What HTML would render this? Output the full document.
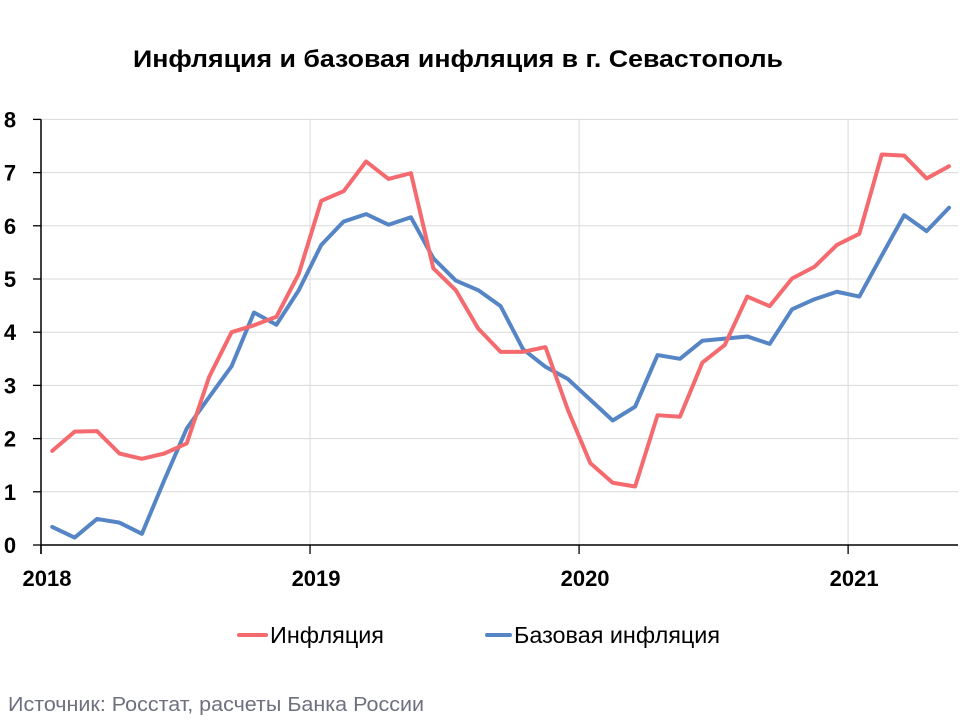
<!DOCTYPE html>
<html><head><meta charset="utf-8"><style>
body{margin:0;background:#fff;}
svg{display:block;font-family:"Liberation Sans",sans-serif;}
</style></head><body>
<svg id="c" width="960" height="720">
<text x="133" y="67" font-size="24" font-weight="bold" textLength="650" lengthAdjust="spacingAndGlyphs">Инфляция и базовая инфляция в г. Севастополь</text>
<g id="grid"></g>
<g id="axes"></g>
<g id="series"></g>
<g>
<g>
<line x1="239" y1="635" x2="266" y2="635" stroke="#f46a6e" stroke-width="4" stroke-linecap="round"/>
<text x="270" y="643" font-size="23" textLength="114" lengthAdjust="spacingAndGlyphs">Инфляция</text></g>
<g>
<line x1="487" y1="635" x2="510" y2="635" stroke="#5585c5" stroke-width="4" stroke-linecap="round"/>
<text x="514" y="643" font-size="23" textLength="206" lengthAdjust="spacingAndGlyphs">Базовая инфляция</text></g>
</g>
<text x="8" y="711" font-size="20" fill="#6e7080" textLength="416" lengthAdjust="spacingAndGlyphs">Источник: Росстат, расчеты Банка России</text>
</svg>
<script>
const yTicks=[0,1,2,3,4,5,6,7,8];
const yearLabels=["2018","2019","2020","2021"];
const inflation=[1.77,2.13,2.14,1.72,1.62,1.72,1.91,3.16,4.0,4.13,4.29,5.1,6.47,6.65,7.21,6.88,6.99,5.2,4.79,4.07,3.63,3.63,3.72,2.54,1.54,1.17,1.10,2.44,2.41,3.43,3.76,4.67,4.49,5.01,5.23,5.64,5.85,7.34,7.32,6.89,7.12];
const coreInflation=[0.34,0.14,0.49,0.42,0.21,1.22,2.19,2.78,3.36,4.37,4.14,4.79,5.64,6.08,6.22,6.02,6.16,5.39,4.97,4.79,4.49,3.68,3.35,3.12,2.73,2.34,2.60,3.57,3.50,3.84,3.88,3.92,3.78,4.43,4.62,4.76,4.67,5.44,6.20,5.90,6.34];
const NS="http://www.w3.org/2000/svg";
const X0=41,MW=22.42,Y0=545,YU=53.2,XR=958;
const xm=i=>X0+(i+0.5)*MW;
const xy=k=>X0+k*12*MW;
const y=v=>Y0-v*YU;
function mk(tag,attrs,parent){const e=document.createElementNS(NS,tag);for(const k in attrs)e.setAttribute(k,attrs[k]);parent.appendChild(e);return e;}
const grid=document.getElementById('grid'),axes=document.getElementById('axes'),series=document.getElementById('series');
yTicks.forEach(t=>{
 if(t>0){const g=mk('line',{x1:X0,x2:XR,y1:y(t),y2:y(t),stroke:'#d9d9d9','stroke-width':1},grid);
 
 }
 const tk=mk('line',{x1:X0-8,x2:X0,y1:y(t),y2:y(t),stroke:'#000','stroke-width':1.3},axes);
 
 
 const tx=mk('text',{x:10,y:y(t)+8,'font-size':22,'font-weight':'bold','text-anchor':'middle'},axes);
 tx.textContent=t;
 
 
});
yearLabels.forEach((l,k)=>{
 const x=xy(k);
 if(k>0){const g=mk('line',{x1:x,x2:x,y1:y(8),y2:Y0,stroke:'#d9d9d9','stroke-width':1},grid);
 
 }
 const tk=mk('line',{x1:x,x2:x,y1:Y0,y2:Y0+9,stroke:'#000','stroke-width':1.3},axes);
 
 
 const tx=mk('text',{x:x+6,y:586,'font-size':22,'font-weight':'bold','text-anchor':'middle'},axes);
 tx.textContent=l;
 
 
});
const ya=mk('line',{x1:X0,x2:X0,y1:y(8),y2:Y0+9,stroke:'#000','stroke-width':1.5},axes);


const xa=mk('line',{x1:X0,x2:XR,y1:Y0,y2:Y0,stroke:'#000','stroke-width':1.5},axes);


function line(arr,color,name){
 const p=mk('polyline',{points:arr.map((v,i)=>xm(i)+','+y(v)).join(' '),fill:'none',stroke:color,'stroke-width':4,'stroke-linejoin':'round','stroke-linecap':'round'},series);
 
 
}
line(coreInflation,'#5585c5','core-inflation-line');
line(inflation,'#f46a6e','inflation-line');
</script>
</body></html>
